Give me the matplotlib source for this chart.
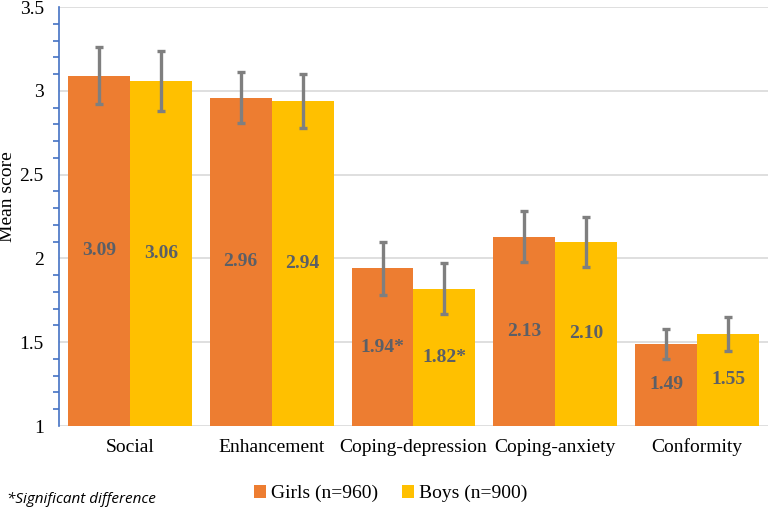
import matplotlib
matplotlib.use("Agg")
import matplotlib.pyplot as plt
import numpy as np
from matplotlib.ticker import MultipleLocator

categories = ["Social", "Enhancement", "Coping-depression", "Coping-anxiety", "Conformity"]
girls = [3.09, 2.96, 1.94, 2.13, 1.49]
boys = [3.06, 2.94, 1.82, 2.10, 1.55]
girls_err = [0.17, 0.15, 0.16, 0.15, 0.09]
boys_err = [0.18, 0.16, 0.15, 0.15, 0.10]
girls_labels = ["3.09", "2.96", "1.94*", "2.13", "1.49"]
boys_labels = ["3.06", "2.94", "1.82*", "2.10", "1.55"]

serif = ["Liberation Serif", "DejaVu Serif"]
orange = "#ED7D31"
yellow = "#FFC000"
gray = "#7F7F7F"
label_color = "#5B5F66"

fig = plt.figure(figsize=(7.68, 5.11), dpi=100)
ax = fig.add_axes([0.0768, 0.1663, 0.9232, 0.82])

x = np.arange(len(categories))
w = 0.437
b1 = ax.bar(x - w/2, np.array(girls) - 1, w, bottom=1, color=orange, label="Girls (n=960)", zorder=2)
b2 = ax.bar(x + w/2, np.array(boys) - 1, w, bottom=1, color=yellow, label="Boys (n=900)", zorder=2)
ax.errorbar(x - w/2, girls, yerr=girls_err, fmt="none", ecolor=gray, elinewidth=2.4, capsize=3, capthick=2.4, zorder=3)
ax.errorbar(x + w/2, boys, yerr=boys_err, fmt="none", ecolor=gray, elinewidth=2.4, capsize=3, capthick=2.4, zorder=3)

for xi, v, lab in zip(x - w/2, girls, girls_labels):
    ax.text(xi, (1 + v) / 2, lab, ha="center", va="center", fontsize=14, fontweight="bold",
            color=label_color, family=serif, zorder=4)
for xi, v, lab in zip(x + w/2, boys, boys_labels):
    ax.text(xi, (1 + v) / 2, lab, ha="center", va="center", fontsize=14, fontweight="bold",
            color=label_color, family=serif, zorder=4)

ax.set_xlim(-0.5, 4.5)
ax.set_ylim(1, 3.5)
ax.yaxis.set_minor_locator(MultipleLocator(0.1))
ax.set_yticks([1, 1.5, 2, 2.5, 3, 3.5])
ax.set_yticklabels(["1", "1.5", "2", "2.5", "3", "3.5"], family=serif, fontsize=14)
ax.grid(axis="y", color="#D9D9D9", linewidth=1.2, zorder=0)
ax.set_axisbelow(True)
for s in ["top", "right", "bottom"]:
    ax.spines[s].set_visible(False)
ax.spines["left"].set_color("#4472C4")
ax.spines["left"].set_linewidth(1.2)
ax.tick_params(axis="y", which="major", length=0, pad=11)
ax.tick_params(axis="y", which="minor", length=4, color="#4472C4", width=1.2)
ax.set_xticks(x)
ax.set_xticklabels(categories, family=serif, fontsize=14)
ax.tick_params(axis="x", length=0, pad=9)

fig.text(8 / 768, 1 - 197 / 511, "Mean score", rotation=90, family=serif, fontsize=14,
         ha="center", va="center")

fig.legend(handles=[b1, b2], loc="center", bbox_to_anchor=(0.509, 0.034), ncol=2, frameon=False,
           prop={"family": serif, "size": 14}, handlelength=0.6, handleheight=0.6, handletextpad=0.3,
           columnspacing=1.2)
fig.text(0.009, 0.022, "*Significant difference", fontsize=11, style="italic", family=["Open Sans", "DejaVu Sans"],
         ha="left", va="center")

fig.savefig("out.png", dpi=100)
